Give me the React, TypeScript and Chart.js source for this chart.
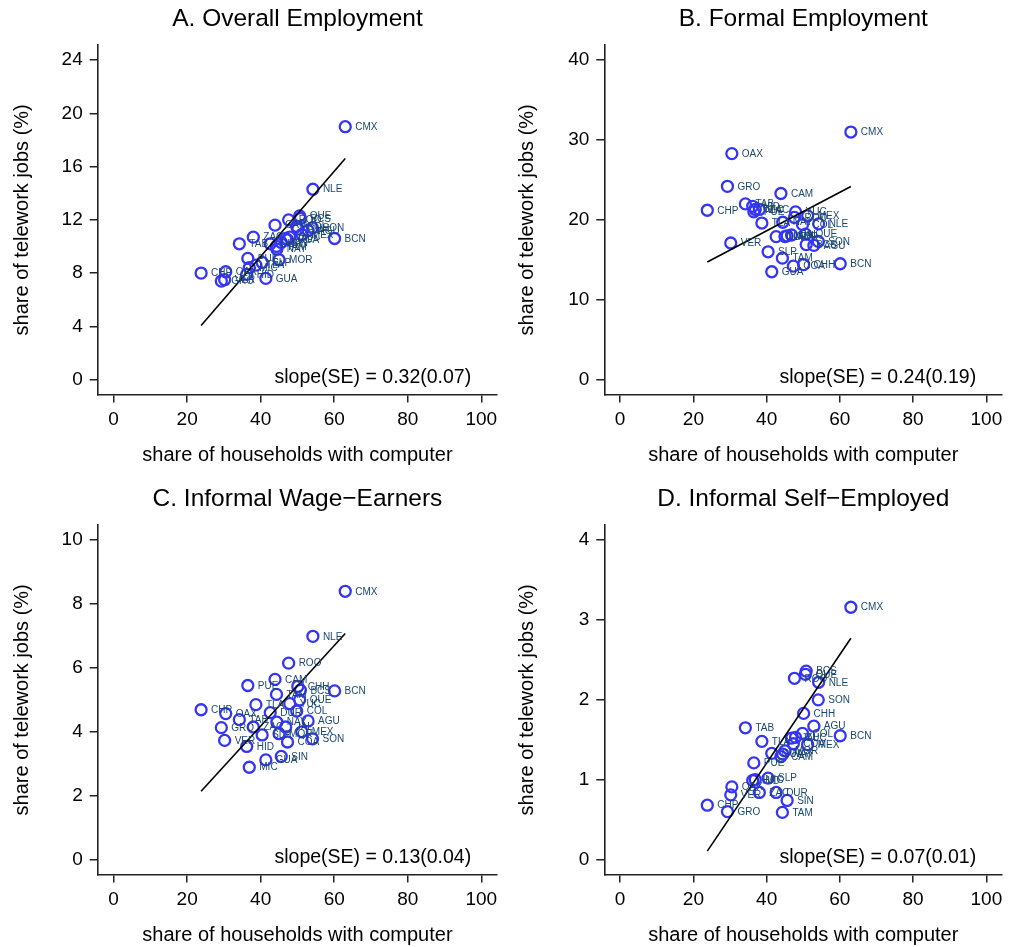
import React, { useEffect, useRef } from 'react';
import { Chart, registerables } from 'chart.js';

Chart.register(...registerables);

// ---------------- data ----------------
const states = ['AGU','BCN','BCS','CAM','COA','COL','CHP','CHH','CMX','DUR','GUA','GRO','HID','JAL','MEX','MIC','MOR','NAY','NLE','OAX','PUE','QUE','ROO','SLP','SIN','SON','TAB','TAM','TLA','VER','YUC','ZAC'];

const computerShare = [52.9,60.1,50.8,43.9,47.3,49.8,23.8,50.1,63.0,42.6,41.4,29.3,36.2,46.8,51.2,36.9,45.0,44.4,54.2,30.5,36.5,50.6,47.6,40.4,45.6,54.1,34.2,44.3,38.7,30.2,47.9,38.0];

const overallEmployment = [11.2,10.6,12.1,11.6,10.5,11.5,8.0,11.3,19.0,10.2,7.6,7.4,7.9,10.6,10.9,8.4,9.0,9.8,14.3,8.1,9.1,12.3,12.0,8.8,10.3,11.4,10.2,10.0,8.6,7.5,10.7,10.7];

const formalEmployment = [16.8,14.5,16.9,23.3,14.2,19.4,21.2,14.4,31.0,17.9,13.5,24.2,21.7,18.1,20.5,21.3,17.9,19.7,19.5,28.3,21.0,18.2,20.3,16.0,18.0,17.3,22.0,15.2,19.6,17.1,21.0,21.3];

const informalWageEarners = [4.34,5.28,5.30,5.64,3.68,4.65,4.69,5.42,8.4,4.6,3.12,4.13,3.54,4.15,4.0,2.89,3.94,4.30,6.99,4.57,5.45,5.0,6.15,3.9,3.23,3.78,4.38,5.17,4.85,3.73,4.88,4.15];

const informalSelfEmployed = [1.67,1.55,2.36,1.29,1.45,1.58,0.68,1.83,3.16,0.84,1.33,0.60,0.99,1.52,1.44,1.0,1.36,1.32,2.22,0.91,1.21,2.32,2.27,1.02,0.74,2.0,1.65,0.59,1.48,0.81,1.53,0.84];

// fitted (weighted) lines: slope and intercept per panel
const fitSlopes = [0.32, 0.241, 0.126, 0.068];
const fitIntercepts = [-3.55, 8.99, -0.86, -1.513];

const xTicks = [0, 20, 40, 60, 80, 100];
const yTicksA = [0, 4, 8, 12, 16, 20, 24];
const yTicksB = [0, 10, 20, 30, 40];
const yTicksC = [0, 2, 4, 6, 8, 10];
const yTicksD = [0, 1, 2, 3, 4];

const titles = ['A. Overall Employment', 'B. Formal Employment', 'C. Informal Wage\u2212Earners', 'D. Informal Self\u2212Employed'];
const slopeTexts = ['slope(SE) = 0.32(0.07)', 'slope(SE) = 0.24(0.19)', 'slope(SE) = 0.13(0.04)', 'slope(SE) = 0.07(0.01)'];

const xAxisTitle = 'share of households with computer';
const yAxisTitle = 'share of telework jobs (%)';

// ---------------- helpers ----------------
const FONT = '"Liberation Sans", Arial, Helvetica, sans-serif';
const MARKER = '#3535f8';
const LABEL = '#1a476f';

function fitLine(xs: number[], slope: number, intercept: number) {
  const x0 = Math.min(...xs);
  const x1 = Math.max(...xs);
  return [{ x: x0, y: intercept + slope * x0 }, { x: x1, y: intercept + slope * x1 }];
}

const decorPlugin = {
  id: 'decor',
  afterDatasetsDraw(chart: any, _args: any, opts: any) {
    const ctx = chart.ctx;
    const meta = chart.getDatasetMeta(1);
    ctx.save();
    ctx.font = `10px ${FONT}`;
    ctx.fillStyle = LABEL;
    ctx.textAlign = 'left';
    ctx.textBaseline = 'middle';
    meta.data.forEach((pt: any, i: number) => {
      ctx.fillText(states[i], pt.x + 10, pt.y + 0.5);
    });
    const area = chart.chartArea;
    ctx.font = `19.5px ${FONT}`;
    ctx.fillStyle = '#000';
    ctx.textAlign = 'right';
    ctx.fillText(opts.slope, area.right - 26, area.bottom - 17);
    ctx.restore();
  },
};

type PanelProps = {
  left: number;
  top: number;
  idx: number;
  values: number[];
  yTicks: number[];
  plotLeft: number;
  plotRight: number;
};

function Panel({ left, top, idx, values, yTicks, plotLeft, plotRight }: PanelProps) {
  const ref = useRef<HTMLCanvasElement>(null);
  useEffect(() => {
    if (!ref.current) return;
    const W = 505;
    const H = 480;
    const plotTop = 45;
    const plotBottom = 394.5;
    const yMin = yTicks[0];
    const yMax = yTicks[yTicks.length - 1];
    const pxPerY = (plotBottom - plotTop - 30) / (yMax - yMin);
    const yPad = 15 / pxPerY;
    const pxPerX = (plotRight - plotLeft - 32) / 100;
    const xPad = 16 / pxPerX;

    const points = computerShare.map((x, i) => ({ x, y: values[i] }));
    const line = fitLine(computerShare, fitSlopes[idx], fitIntercepts[idx]);

    const chart = new Chart(ref.current, {
      type: 'scatter',
      data: {
        datasets: [
          {
            data: line,
            showLine: true,
            borderColor: '#000',
            borderWidth: 1.6,
            pointRadius: 0,
            order: 0,
          },
          {
            data: points,
            pointStyle: 'circle',
            pointRadius: 5.5,
            borderWidth: 2.3,
            borderColor: MARKER,
            backgroundColor: 'rgba(0,0,0,0)',
            order: 1,
          },
        ],
      },
      options: {
        responsive: false,
        animation: false,
        events: [],
        devicePixelRatio: 1,
        layout: { padding: { left: 0, top: 0, right: W - plotRight, bottom: 0 } },
        plugins: {
          legend: { display: false },
          tooltip: { enabled: false },
          title: {
            display: true,
            text: titles[idx],
            fullSize: false,
            color: '#000',
            font: { family: FONT, size: 24.5, weight: 'normal' },
            padding: { top: 5, bottom: 10.8 },
          },
          decor: { slope: slopeTexts[idx] },
        } as any,
        scales: {
          x: {
            type: 'linear',
            min: -xPad,
            max: 100 + xPad,
            afterBuildTicks: (s: any) => { s.ticks = xTicks.map((v) => ({ value: v })); },
            afterFit: (s: any) => { s.height = H - plotBottom; },
            grid: { display: true, drawOnChartArea: false, drawTicks: true, tickLength: 8, color: '#222', lineWidth: 1.5 },
            border: { display: true, color: '#222', width: 1.6 },
            ticks: { color: '#000', font: { family: FONT, size: 19 }, padding: 6, maxRotation: 0 },
            title: {
              display: true,
              text: xAxisTitle,
              color: '#000',
              font: { family: FONT, size: 20 },
              padding: { top: 0, bottom: 13 },
            },
          },
          y: {
            type: 'linear',
            min: yMin - yPad,
            max: yMax + yPad,
            afterBuildTicks: (s: any) => { s.ticks = yTicks.map((v) => ({ value: v })); },
            afterFit: (s: any) => { s.width = plotLeft; },
            grid: { display: true, drawOnChartArea: false, drawTicks: true, tickLength: 8, color: '#222', lineWidth: 1.5 },
            border: { display: true, color: '#222', width: 1.6 },
            ticks: { color: '#000', font: { family: FONT, size: 19 }, padding: 7 },
            title: {
              display: true,
              text: yAxisTitle,
              color: '#000',
              font: { family: FONT, size: 20 },
              padding: { top: 10, bottom: 0 },
            },
          },
        },
      },
      plugins: [decorPlugin],
    } as any);
    return () => chart.destroy();
  }, []);
  return (
    <canvas
      ref={ref}
      width={505}
      height={480}
      style={{ position: 'absolute', left, top, width: 505, height: 480, display: 'block' }}
    />
  );
}

export default function App() {
  return (
    <div style={{ position: 'absolute', left: 0, top: 0, width: 1010, height: 947, overflow: 'hidden', background: '#fff' }}>
      <Panel left={0} top={0} idx={0} values={overallEmployment} yTicks={yTicksA} plotLeft={97.7} plotRight={499.7} />
      <Panel left={505} top={0} idx={1} values={formalEmployment} yTicks={yTicksB} plotLeft={99.3} plotRight={501.3} />
      <Panel left={0} top={480} idx={2} values={informalWageEarners} yTicks={yTicksC} plotLeft={97.7} plotRight={499.7} />
      <Panel left={505} top={480} idx={3} values={informalSelfEmployed} yTicks={yTicksD} plotLeft={99.3} plotRight={501.3} />
    </div>
  );
}
